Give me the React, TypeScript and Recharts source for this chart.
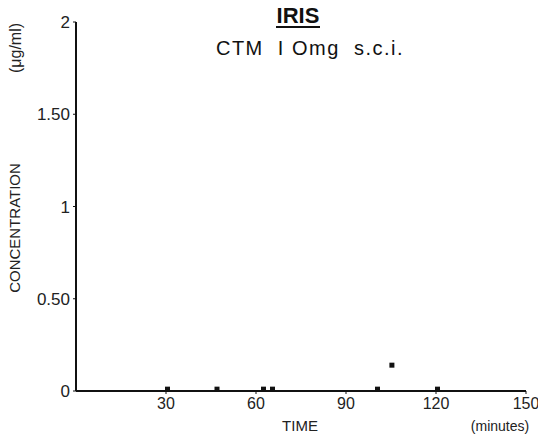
import React from "react";
import { ScatterChart, Scatter, XAxis, YAxis } from "recharts";

const timeMinutes = [30.5, 47, 62.5, 65.5, 100.5, 120.5, 105.3];
const concentration = [0.01, 0.01, 0.01, 0.01, 0.01, 0.01, 0.14];
const xTicks = [30, 60, 90, 120, 150];
const yTicks = [0, 0.5, 1, 1.5, 2];
const yTickLabels = ["0", "0.50", "1", "1.50", "2"];

const data = timeMinutes.map((t, i) => ({ time: t, conc: concentration[i] }));

const FONT = "'Liberation Sans', Arial, sans-serif";

const SquareDot = (props: any) => {
  const { cx, cy } = props;
  if (cx == null || cy == null) return null;
  return <rect x={cx - 2.5} y={cy - 2.5} width={5} height={5} fill="#111" />;
};

const App = () => {
  return (
    <div style={{ position: "absolute", left: 0, top: 0, width: 538, height: 440, background: "#fff" }}>
      <ScatterChart
        width={538}
        height={440}
        margin={{ top: 22, right: 12, bottom: 19, left: 0 }}
        style={{ fontFamily: FONT }}
      >
        <XAxis
          type="number"
          dataKey="time"
          domain={[0, 150]}
          ticks={xTicks}
          height={30}
          tickSize={3}
          tickMargin={4}
          axisLine={{ stroke: "#111", strokeWidth: 2 }}
          tickLine={{ stroke: "#111" }}
          tick={{ fill: "#222", fontSize: 16, fontFamily: FONT }}
        />
        <YAxis
          type="number"
          dataKey="conc"
          domain={[0, 2]}
          ticks={yTicks}
          width={76}
          tickSize={3}
          tickMargin={3}
          tickFormatter={(v: number) => yTickLabels[yTicks.indexOf(v)]}
          axisLine={{ stroke: "#111", strokeWidth: 2 }}
          tickLine={{ stroke: "#111" }}
          tick={{ fill: "#222", fontSize: 17, fontFamily: FONT }}
        />
        <Scatter data={data} shape={<SquareDot />} isAnimationActive={false} />
        <text x={298} y={23} textAnchor="middle" fontSize={22} fontWeight="bold" fontFamily={FONT} fill="#111">
          IRIS
        </text>
        <line x1={276} x2={320} y1={27} y2={27} stroke="#111" strokeWidth={2} />
        <text
          x={310}
          y={55}
          textAnchor="middle"
          fontSize={20}
          fontFamily={FONT}
          fill="#111"
          letterSpacing={1.5}
          style={{ whiteSpace: "pre" }}
        >
          {"CTM  I Omg  s.c.i."}
        </text>
        <text x={20} y={228} transform="rotate(-90 20 228)" textAnchor="middle" fontSize={15} fontFamily={FONT} fill="#222">
          CONCENTRATION
        </text>
        <text x={21} y={48} transform="rotate(-90 21 48)" textAnchor="middle" fontSize={16} fontFamily={FONT} fill="#222">
          (μg/ml)
        </text>
        <text x={300} y={431} textAnchor="middle" fontSize={15} fontFamily={FONT} fill="#222">
          TIME
        </text>
        <text x={500} y={431} textAnchor="middle" fontSize={14} fontFamily={FONT} fill="#222">
          (minutes)
        </text>
      </ScatterChart>
    </div>
  );
};

export default App;
